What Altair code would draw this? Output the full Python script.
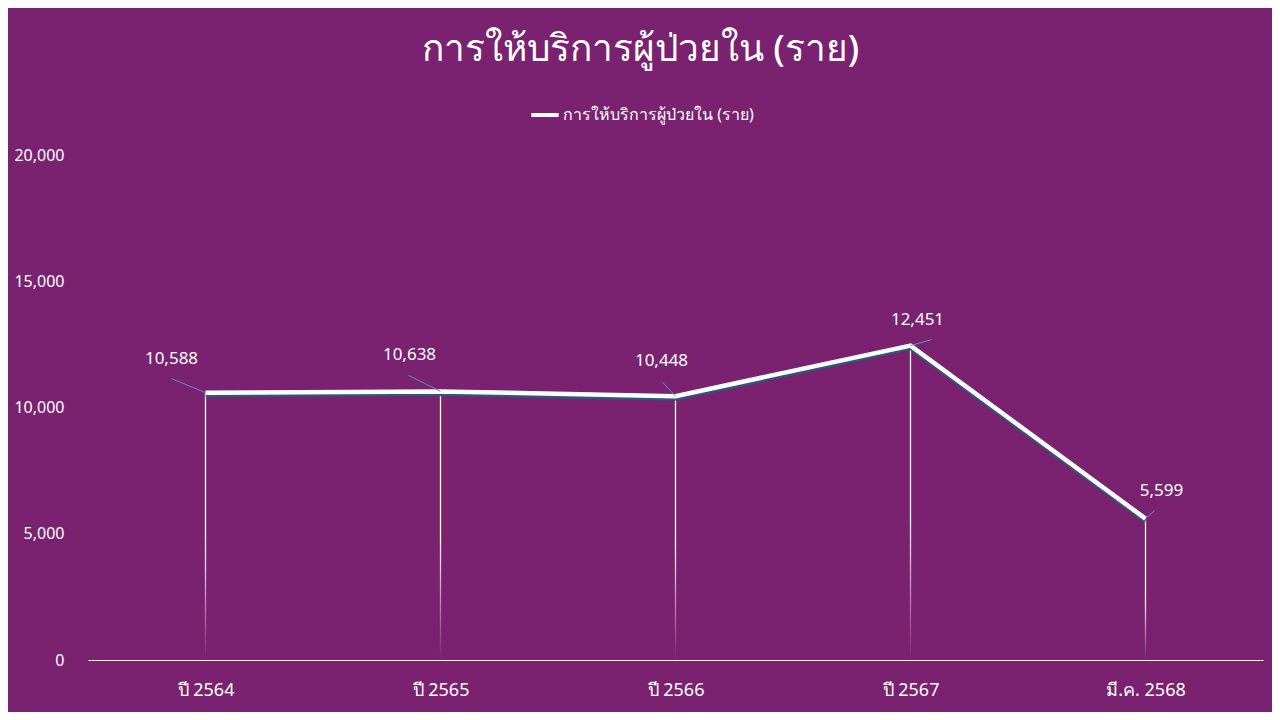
import altair as alt
import pandas as pd

categories = ["ปี 2564", "ปี 2565", "ปี 2566", "ปี 2567", "มี.ค. 2568"]
values = [10588, 10638, 10448, 12451, 5599]
value_labels = ["10,588", "10,638", "10,448", "12,451", "5,599"]
series_name = "การให้บริการผู้ป่วยใน (ราย)"
y_ticks = [0, 5000, 10000, 15000, 20000]

# styling: label offsets (dx, dy) and leader-line end offsets per point
label_offsets = [(-34, -34), (-31, -36), (-14, -35), (7, -26), (16, -28)]
leader_offsets = [(-34, -14), (-32, -16), (-13, -14), (21, -6), (9, -8)]

BG = "#7A216F"
FONT = "Noto Sans"

df = pd.DataFrame({
    "cat": categories,
    "value": values,
    "label": value_labels,
    "series": [series_name] * len(categories),
})

x_enc = alt.X(
    "cat:N",
    sort=categories,
    scale=alt.Scale(type="point", padding=0.5),
    axis=alt.Axis(
        title=None, labelAngle=0, ticks=False, domain=True, domainColor="white",
        domainWidth=1.2, labelColor="white", labelFontSize=18, labelPadding=21,
        labelFont=FONT, grid=False,
    ),
)
y_enc = alt.Y(
    "value:Q",
    scale=alt.Scale(domain=[0, 20000], nice=False),
    axis=alt.Axis(
        title=None, values=y_ticks, format=",.0f", ticks=False, domain=False, grid=False,
        labelColor="white", labelFontSize=16, labelPadding=24, labelFont=FONT,
    ),
)

base = alt.Chart(df)

drops = base.mark_bar(
    size=1.3,
    color=alt.Gradient(
        gradient="linear",
        stops=[
            alt.GradientStop(color="#ffffff", offset=0),
            alt.GradientStop(color="#ffffff", offset=0.55),
            alt.GradientStop(color=BG, offset=1),
        ],
        x1=0, x2=0, y1=0, y2=1,
    ),
).encode(x=x_enc, y=y_enc)

shadow = base.mark_line(color="#2A5A78", strokeWidth=4, yOffset=2.5).encode(x=x_enc, y=y_enc)

line = base.mark_line(strokeWidth=4.5).encode(
    x=x_enc,
    y=y_enc,
    color=alt.Color(
        "series:N",
        scale=alt.Scale(range=["#ffffff"]),
        legend=alt.Legend(
            title=None, orient="none", legendX=441, legendY=-56,
            symbolType="stroke", symbolSize=750, symbolStrokeWidth=4,
            labelColor="white", labelFontSize=16, labelFont=FONT, symbolOffset=0,
            labelOffset=2, labelLimit=500,
        ),
    ),
)

layers = [drops, shadow, line]
for i, cat in enumerate(categories):
    ldx, ldy = leader_offsets[i]
    tdx, tdy = label_offsets[i]
    sub = base.transform_filter(alt.datum.cat == cat)
    leader = sub.mark_rule(color="#5B8FD0", strokeWidth=1, x2Offset=ldx, y2Offset=ldy).encode(
        x=x_enc, y=y_enc, x2="cat:N", y2="value:Q"
    )
    text = sub.mark_text(
        color="white", fontSize=17, font=FONT, dx=tdx, dy=tdy, baseline="middle", align="center"
    ).encode(x=x_enc, y=y_enc, text="label:N")
    layers += [leader, text]

chart = alt.layer(*layers).properties(
    width=1175,
    height=505,
    background=BG,
    padding={"left": 80, "top": 147, "right": 9, "bottom": 52},
    autosize=alt.AutoSizeParams(type="none"),
    title=alt.Title(
        text=series_name, color="white", fontSize=37, font=FONT, fontWeight=500,
        anchor="middle", dx=-35, dy=-26,
    ),
).configure_view(stroke=None)

chart.save("out.html", embed_options={"renderer": "svg", "actions": False})
